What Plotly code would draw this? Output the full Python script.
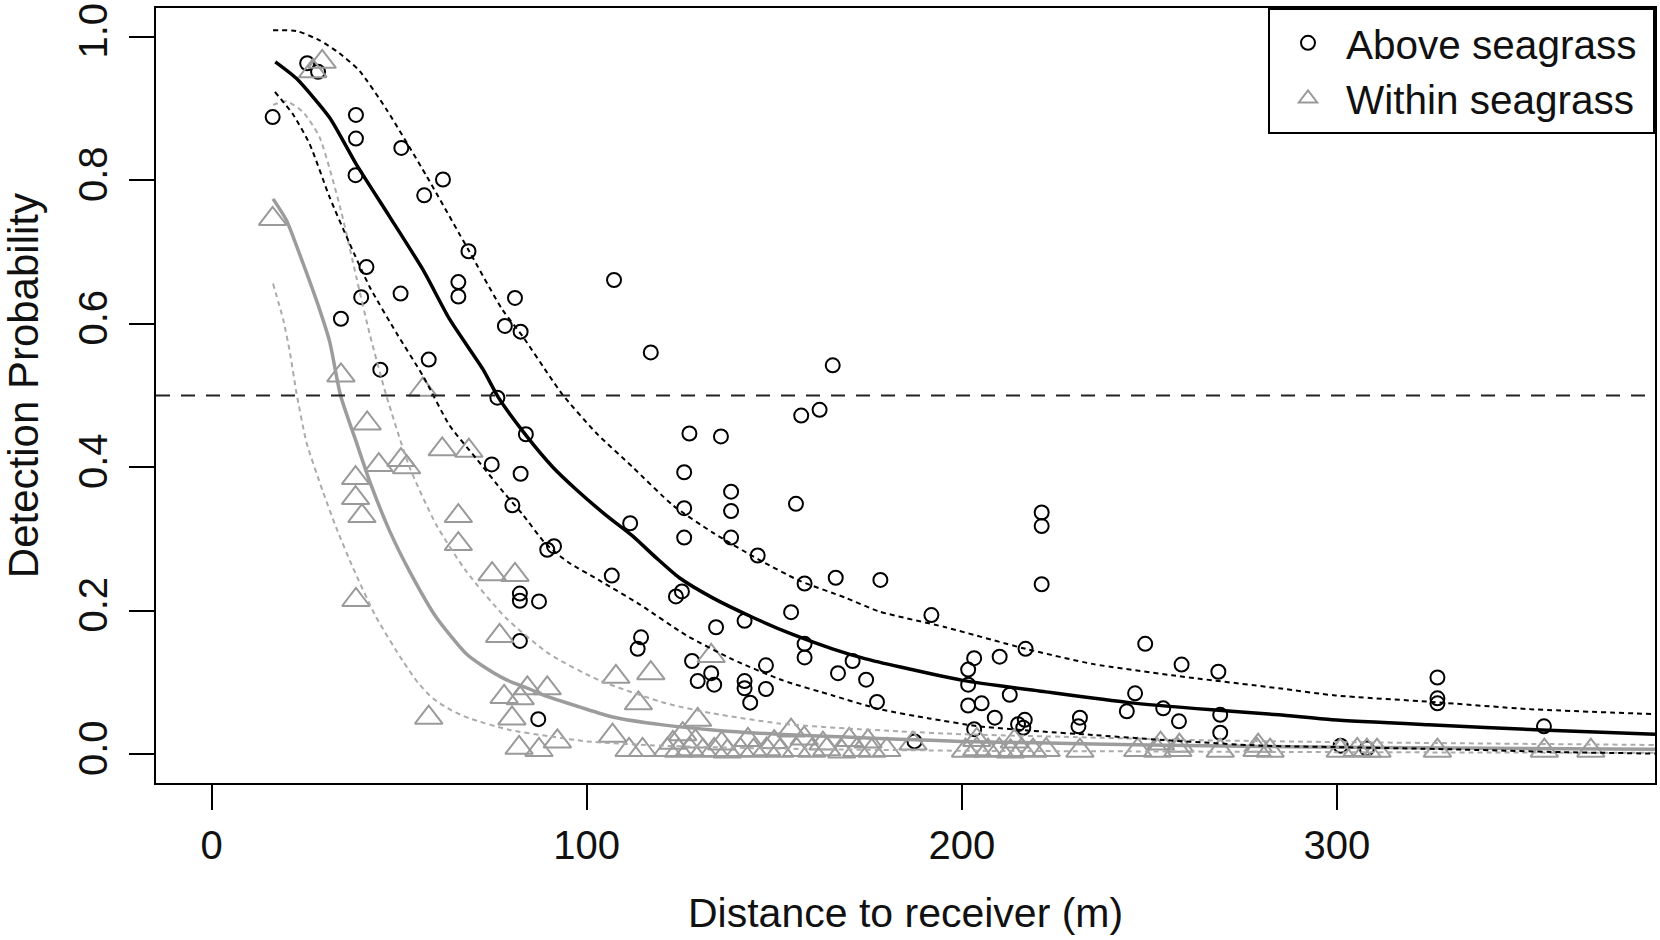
import plotly.graph_objects as go

# ---------------- data ----------------
above_x = [16.3, 25.5, 28.4, 38.5, 38.5, 38.4, 50.6, 61.7, 56.7, 68.5, 65.8, 65.8, 80.9, 50.4, 41.3,
           39.9, 34.5, 78.2, 82.4, 57.9, 45.0, 76.2, 83.8, 74.7, 82.4, 80.2, 89.5, 91.3, 82.2, 82.2,
           87.3, 82.2, 87.1, 107.3, 117.1, 165.6, 157.2, 162.1, 127.4, 135.8, 126.0, 138.5, 138.5,
           155.8, 126.0, 126.0, 138.5, 111.6, 145.6, 106.7, 158.1, 166.4, 178.3, 125.4, 123.8, 154.5,
           134.5, 142.1, 114.5, 113.6, 158.1, 158.1, 128.1, 170.9, 147.8, 133.2, 129.6, 134.0, 142.1,
           142.1, 143.6, 147.8, 167.0, 174.5, 177.4, 191.9, 217.0, 210.1, 203.3, 201.7, 201.7, 201.7,
           205.3, 212.8, 208.8, 203.3, 216.8, 216.4, 215.0, 231.5, 231.1, 248.9, 246.2, 244.0, 258.6,
           253.7, 257.9, 268.4, 268.9, 268.9, 187.4, 326.8, 326.8, 326.8, 355.2, 221.3, 221.3, 221.3,
           301.0, 308.0]
above_y = [0.888, 0.963, 0.951, 0.891, 0.858, 0.807, 0.845, 0.801, 0.779, 0.701, 0.658, 0.638, 0.636,
           0.642, 0.679, 0.637, 0.607, 0.597, 0.589, 0.550, 0.536, 0.497, 0.446, 0.404, 0.391, 0.347,
           0.285, 0.290, 0.224, 0.214, 0.213, 0.158, 0.049, 0.661, 0.560, 0.542, 0.472, 0.480, 0.447,
           0.443, 0.393, 0.366, 0.339, 0.349, 0.343, 0.302, 0.302, 0.322, 0.277, 0.249, 0.238, 0.246,
           0.243, 0.227, 0.220, 0.198, 0.177, 0.186, 0.163, 0.147, 0.154, 0.135, 0.130, 0.130, 0.124,
           0.113, 0.102, 0.097, 0.102, 0.092, 0.072, 0.091, 0.113, 0.104, 0.073, 0.194, 0.147, 0.136,
           0.134, 0.118, 0.097, 0.068, 0.071, 0.083, 0.051, 0.035, 0.048, 0.037, 0.042, 0.051, 0.039,
           0.154, 0.085, 0.060, 0.125, 0.064, 0.046, 0.115, 0.055, 0.030, 0.018, 0.107, 0.078, 0.071,
           0.039, 0.337, 0.318, 0.237, 0.012, 0.008]

within_x = [16.3, 27.0, 29.5, 34.5, 56.3, 41.5, 61.5, 68.6, 44.6, 50.5, 52.0, 38.4, 38.4, 40.1, 65.8,
            65.8, 74.8, 80.9, 38.5, 76.8, 57.9, 78.0, 84.2, 89.5, 82.3, 80.1, 82.0, 87.3, 92.2, 107.8,
            117.1, 113.8, 129.6, 106.9, 111.3, 114.9, 125.6, 133.2, 154.5,
            121.5, 124.5, 127.5, 131.0, 134.0, 137.5, 141.0, 144.5, 148.0, 151.5, 156.0, 160.0, 164.0,
            168.0, 172.0, 176.0, 180.0, 201.0, 204.0, 207.0, 210.0, 213.0, 216.0, 219.0, 222.5, 231.5,
            246.9, 252.2, 257.6, 268.9, 278.7, 282.2, 300.9, 305.4, 308.0, 310.7, 326.8, 355.3, 367.7,
            123.0, 129.0, 136.0, 143.0, 150.0, 158.0, 163.0, 170.0, 175.0, 187.0, 204.0, 214.0, 253.0,
            258.0, 279.0]
within_y = [0.746, 0.952, 0.965, 0.528, 0.508, 0.461, 0.425, 0.423, 0.403, 0.410, 0.400, 0.385, 0.357,
            0.332, 0.332, 0.293, 0.251, 0.250, 0.215, 0.165, 0.051, 0.080, 0.092, 0.092, 0.078, 0.050,
            0.009, 0.006, 0.018, 0.108, 0.113, 0.071, 0.048, 0.026, 0.006, 0.006, 0.028, 0.137, 0.033,
            0.006, 0.005, 0.007, 0.005, 0.006, 0.004, 0.006, 0.005, 0.007, 0.005, 0.006, 0.005, 0.007,
            0.004, 0.006, 0.005, 0.006, 0.005, 0.007, 0.005, 0.006, 0.004, 0.006, 0.005, 0.006, 0.005,
            0.006, 0.005, 0.006, 0.005, 0.006, 0.005, 0.005, 0.006, 0.005, 0.005, 0.005, 0.005, 0.005,
            0.016, 0.018, 0.015, 0.020, 0.017, 0.022, 0.015, 0.020, 0.018, 0.015, 0.020, 0.018, 0.015,
            0.012, 0.012]

# fitted curve (above seagrass) and its bounds
fit_above_x = [17, 22.6, 31.5, 38.6, 47.5, 56.4, 63.5, 72.3, 76.5, 83.9, 91, 97.2, 105.2, 112.3, 118.5,
               124.7, 133.6, 144.2, 154.9, 165.5, 174.4, 183.3, 200.2, 222.4, 244.6, 266.7, 284.5,
               298.7, 324.4, 354.6, 384.8]
fit_above_y = [0.965, 0.942, 0.887, 0.822, 0.749, 0.675, 0.606, 0.537, 0.497, 0.444, 0.400, 0.369,
               0.333, 0.304, 0.274, 0.246, 0.218, 0.191, 0.167, 0.147, 0.133, 0.122, 0.103, 0.087,
               0.072, 0.062, 0.055, 0.048, 0.041, 0.034, 0.028]
upper_above_x = [16.4, 22.6, 28.8, 34.1, 39.5, 46.6, 57.3, 68.8, 77.5, 83, 90.1, 93.6, 102.5, 112.3,
                 123, 133.6, 146, 156.7, 169.1, 178, 195.7, 217, 234.8, 256.1, 284.5, 299.6, 325.3,
                 351.1, 384.8]
upper_above_y = [1.009, 1.008, 0.995, 0.977, 0.952, 0.899, 0.806, 0.700, 0.620, 0.582, 0.527, 0.501,
                 0.448, 0.400, 0.347, 0.309, 0.271, 0.242, 0.218, 0.199, 0.177, 0.147, 0.126, 0.110,
                 0.092, 0.082, 0.073, 0.063, 0.056]
lower_above_x = [16.9, 21.7, 26.2, 31.5, 36.8, 42.1, 49.3, 56.4, 63.5, 70.6, 77.7, 83, 88.8, 95, 103.5,
                 114.1, 126.5, 139, 152.3, 165.6, 178, 191.3, 204.6, 220.6, 234.8, 253.4, 280, 300, 330,
                 360, 384.8]
lower_above_y = [0.923, 0.892, 0.850, 0.776, 0.712, 0.652, 0.587, 0.527, 0.458, 0.412, 0.366, 0.334,
                 0.295, 0.268, 0.242, 0.209, 0.166, 0.132, 0.103, 0.082, 0.063, 0.050, 0.039, 0.032,
                 0.027, 0.020, 0.012, 0.010, 0.007, 0.003, 0.001]

# fitted curve (within seagrass) and its bounds
fit_within_x = [16.4, 20, 24.4, 28.8, 31.5, 34.4, 38.6, 42.2, 47.5, 52.8, 59.9, 67.9, 72, 78.5, 84.8,
                89.2, 98.1, 106.9, 120.3, 133.6, 151.1, 169.1, 183.3, 200, 220, 250, 280, 320, 384.8]
fit_within_y = [0.774, 0.744, 0.684, 0.620, 0.575, 0.500, 0.435, 0.380, 0.311, 0.255, 0.191, 0.140,
                0.124, 0.104, 0.091, 0.081, 0.066, 0.052, 0.041, 0.034, 0.028, 0.024, 0.021, 0.018,
                0.016, 0.013, 0.011, 0.009, 0.007]
upper_within_x = [16.4, 20, 24.4, 28.8, 34.4, 38.6, 42.2, 46.6, 52.8, 59.9, 67.9, 78.5, 90, 103.4,
                  121.2, 133.6, 151.3, 169.1, 183.3, 200, 230, 260, 300, 340, 384.8]
upper_within_y = [0.905, 0.910, 0.895, 0.860, 0.760, 0.665, 0.585, 0.500, 0.400, 0.320, 0.255, 0.190,
                  0.140, 0.103, 0.071, 0.057, 0.043, 0.036, 0.032, 0.028, 0.024, 0.020, 0.017, 0.015,
                  0.013]
lower_within_x = [16.4, 19.1, 20.9, 22.6, 25.3, 29.7, 33.3, 37.7, 43.9, 51, 55, 59, 64, 68.8, 79.4,
                  90.1, 100, 120, 150, 200, 250, 300, 384.8]
lower_within_y = [0.656, 0.606, 0.560, 0.505, 0.435, 0.366, 0.315, 0.260, 0.191, 0.130, 0.100, 0.078,
                  0.061, 0.050, 0.034, 0.025, 0.018, 0.012, 0.008, 0.005, 0.004, 0.003, 0.002]

threshold = 0.5
x_ticks = [0, 100, 200, 300]
y_ticks = [0.0, 0.2, 0.4, 0.6, 0.8, 1.0]
x_range = [-14.8, 384.8]
y_range = [-0.04, 1.04]

labels = ["Above seagrass", "Within seagrass"]
x_title = "Distance to receiver (m)"
y_title = "Detection Probability"

# ---------------- styles ----------------
BLACK = "#000000"
TXT = "#111111"
GRAY_PTS = "#9a9a9a"
GRAY_LINE = "#9c9c9c"
GRAY_DOT = "#ababab"
FONT = "Arial, 'Liberation Sans', sans-serif"
DOT = "5px,4px"
PAD = "\u00a0"  # small right padding inside the legend box

fig = go.Figure()

fig.add_trace(go.Scatter(
    x=above_x, y=above_y, mode="markers", name=labels[0] + PAD,
    marker=dict(symbol="circle-open", size=14, color=BLACK, line=dict(width=2, color=BLACK)),
))
fig.add_trace(go.Scatter(
    x=within_x, y=within_y, mode="markers", name=labels[1] + PAD,
    marker=dict(symbol="triangle-up-open", size=24, color=GRAY_PTS, line=dict(width=2, color=GRAY_PTS)),
))


def add_line(xs, ys, color, width, dash=None):
    fig.add_trace(go.Scatter(
        x=xs, y=ys, mode="lines", showlegend=False, hoverinfo="skip",
        line=dict(color=color, width=width, dash=dash, shape="spline", smoothing=0.6),
    ))


add_line(upper_within_x, upper_within_y, GRAY_DOT, 2, DOT)
add_line(lower_within_x, lower_within_y, GRAY_DOT, 2, DOT)
add_line(fit_within_x, fit_within_y, GRAY_LINE, 3.5)
add_line(upper_above_x, upper_above_y, BLACK, 2, DOT)
add_line(lower_above_x, lower_above_y, BLACK, 2, DOT)
add_line(fit_above_x, fit_above_y, BLACK, 3.5)

fig.add_shape(type="line", xref="paper", x0=0, x1=1, yref="y", y0=threshold, y1=threshold,
              line=dict(color="#222222", width=2, dash="14px,11px"))

axis_common = dict(
    showgrid=False, zeroline=False, showline=True, linecolor=BLACK, linewidth=2, mirror=True,
    ticks="outside", ticklen=25, tickwidth=1.5, tickcolor=BLACK,
    tickfont=dict(size=40, family=FONT, color=TXT),
)

fig.update_layout(
    width=1660, height=940,
    margin=dict(l=156, r=5, t=3, b=157),
    paper_bgcolor="white", plot_bgcolor="white",
    font=dict(family=FONT, size=40, color=TXT),
    xaxis=dict(range=x_range, tickvals=x_ticks, ticklabelstandoff=1, **axis_common),
    yaxis=dict(range=y_range, tickvals=y_ticks, ticktext=[f"{v:.1f}" for v in y_ticks],
               tickangle=-90, ticklabelstandoff=6, **axis_common),
    legend=dict(x=1, y=1, xanchor="right", yanchor="top", bordercolor=BLACK, borderwidth=2,
                bgcolor="white", font=dict(size=40.5, family=FONT, color=TXT), itemwidth=66),
    annotations=[
        dict(text=x_title, xref="paper", x=0.5, yref="paper", y=0, yanchor="middle", yshift=-130,
             showarrow=False, font=dict(size=41, family=FONT, color=TXT)),
        dict(text=y_title, xref="paper", x=0, xanchor="center", xshift=-133, yref="paper", y=0.512,
             yanchor="middle", textangle=-90, showarrow=False,
             font=dict(size=42, family=FONT, color=TXT)),
    ],
)

fig.write_html("out.html",
               config={"displayModeBar": False},
               post_script="document.body.style.margin='0';document.body.style.padding='0';")
